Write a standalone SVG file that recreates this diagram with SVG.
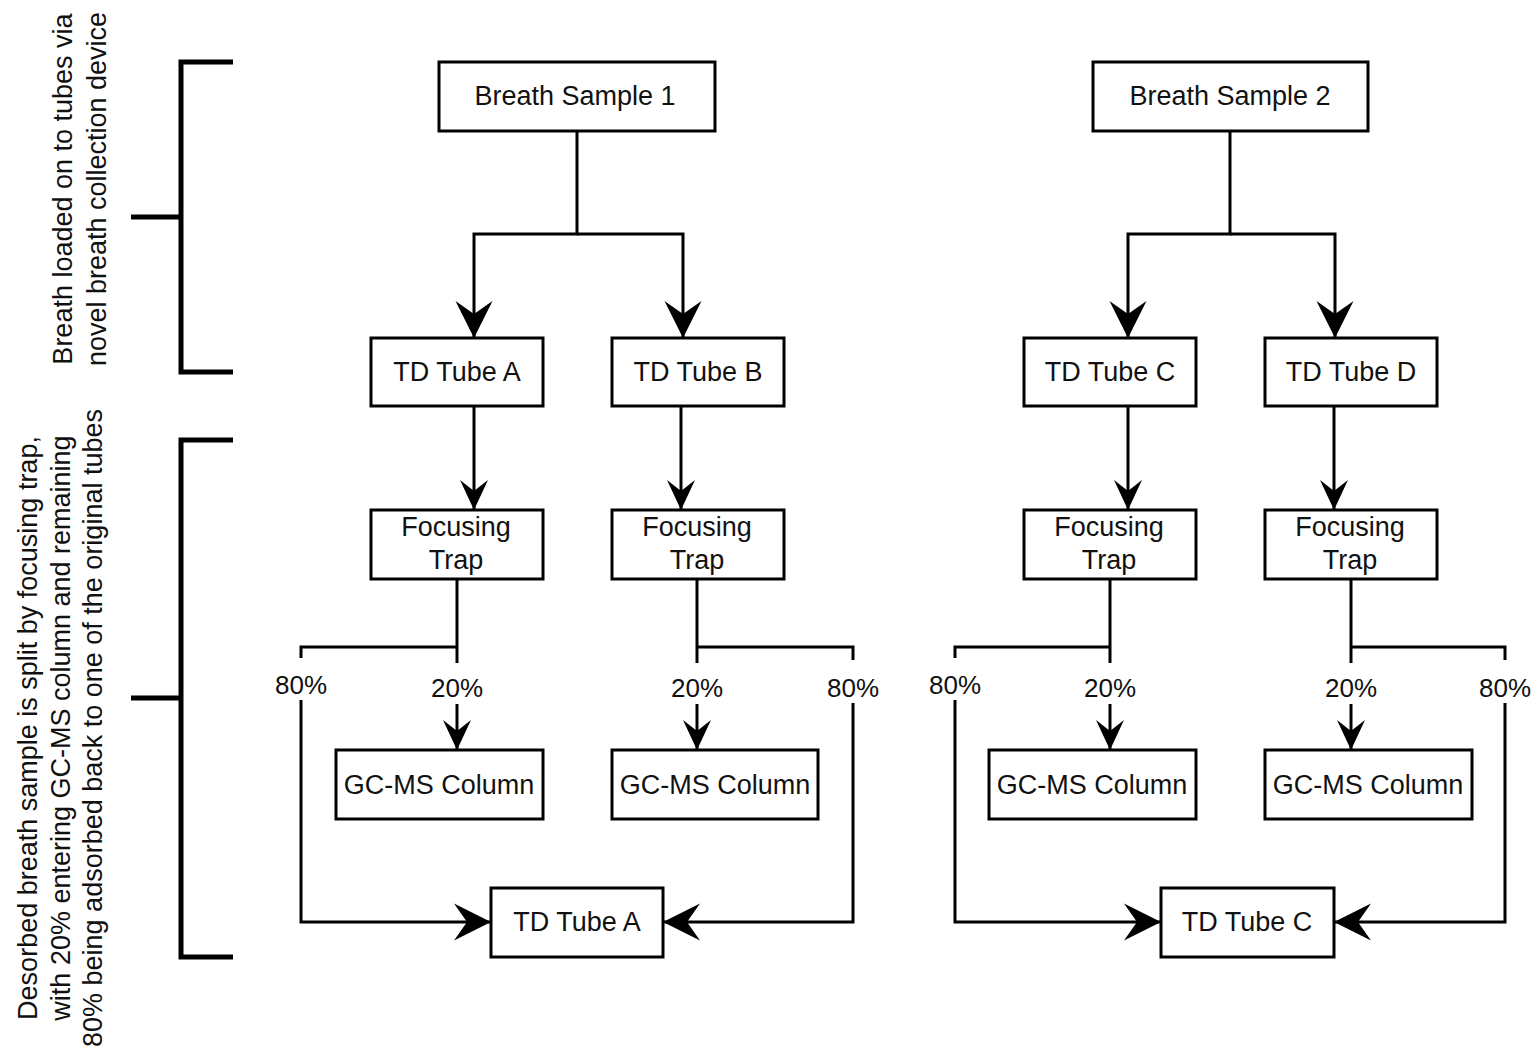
<svg xmlns="http://www.w3.org/2000/svg" width="1537" height="1057" viewBox="0 0 1537 1057">
<style>
.box{fill:#fff;stroke:#000;stroke-width:3}
.t{font-family:"Liberation Sans",Arial,Helvetica,sans-serif;font-size:27px;fill:#111;text-anchor:middle}
.lbl{font-family:"Liberation Sans",Arial,Helvetica,sans-serif;font-size:26px;fill:#111;text-anchor:middle}
.c{fill:none;stroke:#000;stroke-width:3}
.cb{fill:none;stroke:#000;stroke-width:3;marker-end:url(#big)}
.cm{fill:none;stroke:#000;stroke-width:3;marker-end:url(#med)}
.br{fill:none;stroke:#000;stroke-width:5}
.bg{fill:#fff}
</style>
<defs>
<marker id="big" markerUnits="userSpaceOnUse" viewBox="-40 -20 42 40" markerWidth="42" markerHeight="40" refX="0" refY="0" orient="auto" overflow="visible">
<path d="M0,0 L-37,-18.5 L-24,0 L-37,18.5 Z" fill="#000"/>
</marker>
<marker id="med" markerUnits="userSpaceOnUse" viewBox="-32 -16 34 32" markerWidth="34" markerHeight="32" refX="0" refY="0" orient="auto" overflow="visible">
<path d="M0,0 L-30,-14 L-19,0 L-30,14 Z" fill="#000"/>
</marker>
</defs>
<rect width="1537" height="1057" fill="#fff"/>

<g id="brackets">
<path class="br" d="M233,62 H181 V372 H233"/>
<path class="br" d="M131,217 H181"/>
<path class="br" d="M233,440 H181 V957 H233"/>
<path class="br" d="M131,698 H181"/>
</g>

<g id="side-labels">
<text class="t" transform="translate(72,189) rotate(-90)"><tspan x="0" y="0">Breath loaded on to tubes via</tspan><tspan x="0" y="34">novel breath collection device</tspan></text>
<text class="t" transform="translate(37,728) rotate(-90)"><tspan x="0" y="0">Desorbed breath sample is split by focusing trap,</tspan><tspan x="0" y="32.5">with 20% entering GC-MS column and remaining</tspan><tspan x="0" y="65">80% being adsorbed back to one of the original tubes</tspan></text>
</g>

<g id="connectors">
<path class="cb" d="M577,131 V234 H474 V338"/>
<path class="cb" d="M577,234 H683 V338"/>
<path class="cb" d="M1230,131 V234 H1128 V338"/>
<path class="cb" d="M1230,234 H1335 V338"/>
<path class="cm" d="M474,406 V510"/>
<path class="cm" d="M681,406 V510"/>
<path class="cm" d="M1128,406 V510"/>
<path class="cm" d="M1334,406 V510"/>
<path class="cm" d="M457,579 V750"/>
<path class="cb" d="M457,647 H301 V922 H491"/>
<path class="cm" d="M697,579 V750"/>
<path class="cb" d="M697,647 H853 V922 H663"/>
<path class="cm" d="M1110,579 V750"/>
<path class="cb" d="M1110,647 H955 V922 H1161"/>
<path class="cm" d="M1351,579 V750"/>
<path class="cb" d="M1351,647 H1505 V922 H1334"/>
<g id="connector-labels">
<rect class="bg" x="273" y="658" width="56" height="42"/><text class="lbl" x="301" y="694">80%</text>
<rect class="bg" x="429" y="663" width="56" height="41"/><text class="lbl" x="457" y="697">20%</text>
<rect class="bg" x="669" y="663" width="56" height="41"/><text class="lbl" x="697" y="697">20%</text>
<rect class="bg" x="825" y="660" width="56" height="43"/><text class="lbl" x="853" y="697">80%</text>
<rect class="bg" x="927" y="658" width="56" height="42"/><text class="lbl" x="955" y="694">80%</text>
<rect class="bg" x="1082" y="663" width="56" height="41"/><text class="lbl" x="1110" y="697">20%</text>
<rect class="bg" x="1323" y="663" width="56" height="41"/><text class="lbl" x="1351" y="697">20%</text>
<rect class="bg" x="1477" y="660" width="56" height="43"/><text class="lbl" x="1505" y="697">80%</text>
</g>
</g>

<g id="breath-sample-1"><rect class="box" x="439" y="62" width="276" height="69"/><text class="t" x="575" y="105">Breath Sample 1</text></g>
<g id="breath-sample-2"><rect class="box" x="1093" y="62" width="275" height="69"/><text class="t" x="1230" y="105">Breath Sample 2</text></g>

<g id="td-tube-a"><rect class="box" x="371" y="338" width="172" height="68"/><text class="t" x="457" y="381">TD Tube A</text></g>
<g id="td-tube-b"><rect class="box" x="612" y="338" width="172" height="68"/><text class="t" x="698" y="381">TD Tube B</text></g>
<g id="td-tube-c"><rect class="box" x="1024" y="338" width="172" height="68"/><text class="t" x="1110" y="381">TD Tube C</text></g>
<g id="td-tube-d"><rect class="box" x="1265" y="338" width="172" height="68"/><text class="t" x="1351" y="381">TD Tube D</text></g>

<g id="focusing-trap-a"><rect class="box" x="371" y="510" width="172" height="69"/><text class="t" x="456" y="536">Focusing<tspan x="456" y="569">Trap</tspan></text></g>
<g id="focusing-trap-b"><rect class="box" x="612" y="510" width="172" height="69"/><text class="t" x="697" y="536">Focusing<tspan x="697" y="569">Trap</tspan></text></g>
<g id="focusing-trap-c"><rect class="box" x="1024" y="510" width="172" height="69"/><text class="t" x="1109" y="536">Focusing<tspan x="1109" y="569">Trap</tspan></text></g>
<g id="focusing-trap-d"><rect class="box" x="1265" y="510" width="172" height="69"/><text class="t" x="1350" y="536">Focusing<tspan x="1350" y="569">Trap</tspan></text></g>

<g id="gcms-a"><rect class="box" x="336" y="750" width="207" height="69"/><text class="t" x="439" y="794">GC-MS Column</text></g>
<g id="gcms-b"><rect class="box" x="612" y="750" width="206" height="69"/><text class="t" x="715" y="794">GC-MS Column</text></g>
<g id="gcms-c"><rect class="box" x="989" y="750" width="207" height="69"/><text class="t" x="1092" y="794">GC-MS Column</text></g>
<g id="gcms-d"><rect class="box" x="1265" y="750" width="207" height="69"/><text class="t" x="1368" y="794">GC-MS Column</text></g>

<g id="td-tube-a-return"><rect class="box" x="491" y="888" width="172" height="69"/><text class="t" x="577" y="931">TD Tube A</text></g>
<g id="td-tube-c-return"><rect class="box" x="1161" y="888" width="173" height="69"/><text class="t" x="1247" y="931">TD Tube C</text></g>
</svg>
